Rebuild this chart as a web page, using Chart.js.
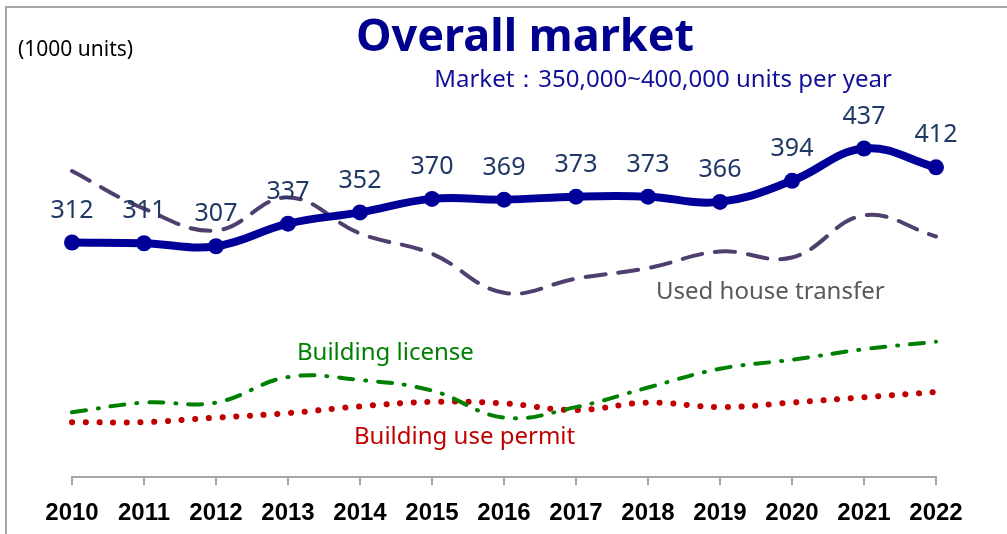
<!DOCTYPE html>
<html>
<head>
<meta charset="utf-8">
<script src="https://cdn.jsdelivr.net/npm/chart.js@4/dist/chart.umd.min.js"></script>
<style>
  html, body { margin: 0; padding: 0; background: #fff; }
  #wrap { width: 1007px; height: 534px; position: relative; }
</style>
</head>
<body>
<div id="wrap"><canvas id="market"></canvas></div>
<script>
// years on the x axis
var years = ["2010", "2011", "2012", "2013", "2014", "2015", "2016", "2017", "2018", "2019", "2020", "2021", "2022"];

// values, 1000 units
var overallMarket   = [312, 311, 307, 337, 352, 370, 369, 373, 373, 366, 394, 437, 412];
var usedHouse       = [407, 357, 328, 372, 324, 297, 245, 264, 278, 300, 292, 348, 320];
var buildingLicense = [86, 99, 99, 133, 129, 115, 79, 93, 119, 144, 156, 170, 180];
var usePermit       = [73, 73, 79, 85, 94, 100, 98, 89, 99, 93, 99, 106, 113];

var yMin = 0;
var yMax = 600;

var titleText = "Overall market";
var subtitleText = "Market\uFF1A350,000~400,000 units per year";
var unitText = "(1000 units)";

var sansFont = "'Noto Sans', 'Open Sans', sans-serif";

// frame, titles and the in-chart series names
var decorPlugin = {
  id: "decor",
  beforeDraw: function(chart) {
    var ctx = chart.ctx;
    ctx.save();
    ctx.fillStyle = "#fff";
    ctx.fillRect(0, 0, chart.width, chart.height);
    ctx.strokeStyle = "#a6a6a6";
    ctx.lineWidth = 2;
    ctx.beginPath();
    ctx.moveTo(6, chart.height);
    ctx.lineTo(6, 7);
    ctx.lineTo(chart.width, 7);
    ctx.stroke();
    ctx.restore();
  },
  afterDraw: function(chart) {
    var ctx = chart.ctx;
    ctx.save();
    ctx.textBaseline = "middle";
    ctx.textAlign = "center";

    ctx.fillStyle = "#00008f";
    ctx.font = "bold 45px " + sansFont;
    ctx.fillText(titleText, 525, 38);

    ctx.fillStyle = "#10109a";
    ctx.font = "24px " + sansFont;
    ctx.fillText(subtitleText, 663, 80);

    ctx.textAlign = "left";
    ctx.fillStyle = "#000";
    ctx.font = "21px " + sansFont;
    ctx.fillText(unitText, 18, 50);

    ctx.font = "24px " + sansFont;
    ctx.fillStyle = "#595959";
    ctx.fillText("Used house transfer", 656, 292);
    ctx.fillStyle = "#008000";
    ctx.fillText("Building license", 297, 353);
    ctx.fillStyle = "#c00000";
    ctx.fillText("Building use permit", 354, 437);
    ctx.restore();
  }
};

// value labels above the main line
var labelPlugin = {
  id: "valueLabels",
  afterDatasetsDraw: function(chart) {
    var ctx = chart.ctx;
    var meta = chart.getDatasetMeta(0);
    ctx.save();
    ctx.fillStyle = "#1f3864";
    ctx.font = "25px " + sansFont;
    ctx.textAlign = "center";
    ctx.textBaseline = "middle";
    meta.data.forEach(function(pt, i) {
      ctx.fillText(String(overallMarket[i]), pt.x, pt.y - 32);
    });
    ctx.restore();
  }
};

new Chart(document.getElementById("market"), {
  type: "line",
  data: {
    labels: years,
    datasets: [
      {
        label: "Overall market",
        data: overallMarket,
        borderColor: "#000099",
        backgroundColor: "#000099",
        borderWidth: 8,
        pointRadius: 8,
        pointBorderWidth: 0,
        tension: 0.4
      },
      {
        label: "Used house transfer",
        data: usedHouse,
        borderColor: "#4f3f6e",
        borderWidth: 4,
        borderDash: [20, 13],
        borderCapStyle: "round",
        pointRadius: 0,
        tension: 0.4
      },
      {
        label: "Building license",
        data: buildingLicense,
        borderColor: "#008000",
        borderWidth: 4,
        borderDash: [14, 12, 1, 12],
        borderCapStyle: "round",
        pointRadius: 0,
        tension: 0.4
      },
      {
        label: "Building use permit",
        data: usePermit,
        borderColor: "#c00000",
        borderWidth: 6,
        borderDash: [0.1, 13.6],
        borderCapStyle: "round",
        pointRadius: 0,
        tension: 0.4
      }
    ]
  },
  options: {
    responsive: true,
    maintainAspectRatio: false,
    animation: false,
    layout: { padding: { left: 72, right: 71, top: 26, bottom: -7 } },
    plugins: {
      legend: { display: false },
      tooltip: { enabled: false }
    },
    scales: {
      x: {
        offset: false,
        border: { display: true, color: "#a6a6a6", width: 2 },
        grid: { drawOnChartArea: false, color: "#a6a6a6", lineWidth: 2, tickLength: 8 },
        ticks: {
          color: "#000",
          padding: 16,
          maxRotation: 0,
          autoSkip: false,
          font: { family: "'Liberation Sans', Arial, sans-serif", size: 24, weight: "bold", lineHeight: 1.0 }
        }
      },
      y: {
        display: false,
        min: yMin,
        max: yMax
      }
    }
  },
  plugins: [decorPlugin, labelPlugin]
});
</script>
</body>
</html>
